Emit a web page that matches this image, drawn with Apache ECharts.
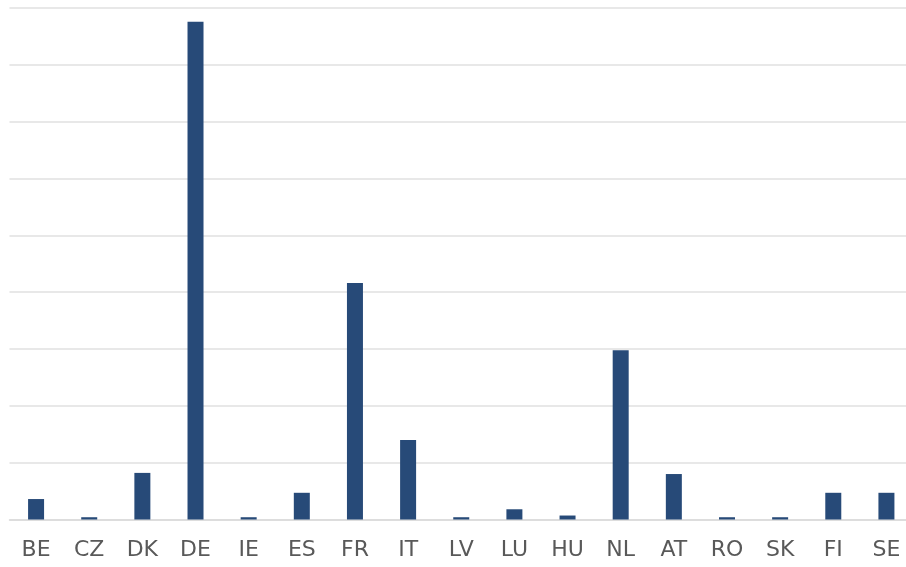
<!DOCTYPE html>
<html>
<head>
<meta charset="utf-8">
<script src="https://cdn.jsdelivr.net/npm/echarts@6/dist/echarts.min.js"></script>
<style>html,body{margin:0;padding:0;background:#fff;overflow:hidden;}#c{width:913px;height:567px;}</style>
</head>
<body>
<div id="c"></div>
<script>
var categories = ["BE","CZ","DK","DE","IE","ES","FR","IT","LV","LU","HU","NL","AT","RO","SK","FI","SE"];
var values = [0.36,0.04,0.82,8.76,0.04,0.47,4.16,1.40,0.04,0.18,0.07,2.98,0.80,0.04,0.04,0.47,0.47];

var chart = echarts.init(document.getElementById('c'), null, {renderer:'canvas'});
chart.setOption({
  animation: false,
  backgroundColor: '#ffffff',
  grid: {left: 9.5, right: 0, top: 8, bottom: 47.5, containLabel: false},
  xAxis: {
    type: 'category',
    data: categories,
    axisTick: {show: false},
    axisLine: {show: true, lineStyle: {color: '#d9d9d9', width: 1.5}},
    axisLabel: {color: '#595959', fontFamily: 'DejaVu Sans', fontSize: 22, margin: 20, interval: 0}
  },
  yAxis: {
    type: 'value',
    min: 0, max: 9, interval: 1,
    axisLabel: {show: false},
    axisLine: {show: false},
    axisTick: {show: false},
    splitLine: {show: true, lineStyle: {color: '#e0e0e0', width: 1.5}}
  },
  series: [{
    type: 'bar',
    data: values,
    barWidth: 16,
    itemStyle: {color: '#274a78'}
  }]
});
</script>
</body>
</html>
